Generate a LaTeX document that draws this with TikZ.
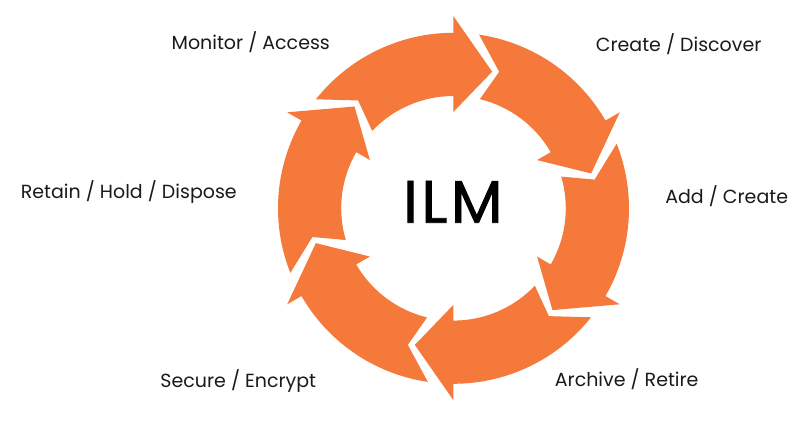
\documentclass[tikz,border=0pt]{standalone}
\usepackage{fontspec}
\setmainfont{Poppins}
\newfontfamily\ilmfont[FakeBold=1.2,LetterSpace=6]{Poppins}
\definecolor{ilmorange}{RGB}{244,121,59}
\definecolor{ilmtext}{RGB}{26,26,26}
\tikzset{
  ilmarrow/.style={fill=ilmorange, draw=none},
  lbl/.style={anchor=base, inner sep=0pt, text=ilmtext, font=\fontsize{19}{22}\selectfont},
  centerlbl/.style={anchor=base, inner sep=0pt, text=black, font=\ilmfont\fontsize{60}{62}\selectfont},
}
\begin{document}
\begin{tikzpicture}[x=1pt,y=1pt]
\useasboundingbox (-453.5,-219.7) rectangle (358.5,208.3);
\fill[white] (-453.5,-219.7) rectangle (358.5,208.3);
\coordinate (c) at (0,0);
\foreach \t in {90,30,-30,-90,-150,-210}{
  \pgfmathsetmacro{\ta}{\t+51.6}
  \pgfmathsetmacro{\tb}{\t-15.8}
  \pgfmathsetmacro{\tc}{\t+46.4}
  \pgfmathsetmacro{\td}{\t+41.5}
  \fill[ilmarrow] (\ta:175.5pt) arc[start angle=\ta, end angle=\t, radius=175.5pt]
    -- (\t:192pt) -- (\tb:142pt) -- (\t:96.5pt) -- (\t:112.3pt)
    arc[start angle=\t, end angle=\tc, radius=112.3pt]
    -- (\td:144pt) -- cycle;
}
\node[centerlbl] (ilm) at (-0.6,-14.4) {ILM};
\node[lbl] (mon) at (-202.7,158.3) {Monitor / Access};
\node[lbl] (cre) at (225.2,156.6) {Create / Discover};
\node[lbl] (add) at (273.2,5) {Add / Create};
\node[lbl] (ret) at (-324.7,10) {Retain / Hold / Dispose};
\node[lbl] (sec) at (-215.2,-179) {Secure / Encrypt};
\node[lbl] (arc) at (173.2,-178.4) {Archive / Retire};
\end{tikzpicture}
\end{document}
